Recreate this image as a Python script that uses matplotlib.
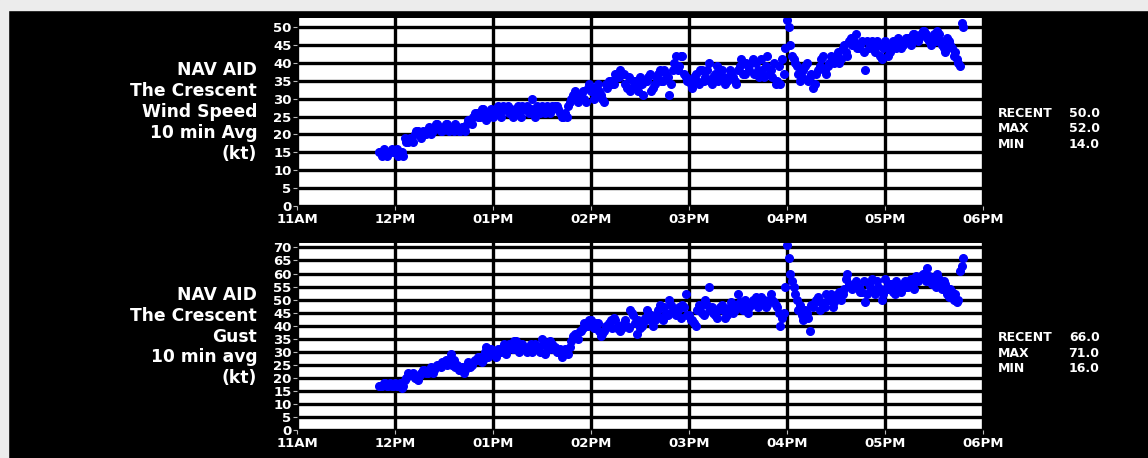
import numpy as np
import matplotlib.pyplot as plt
from matplotlib.patches import Rectangle

plt.rcParams["font.family"] = "DejaVu Sans"
plt.rcParams["font.weight"] = "bold"

# =========================
# DATA
# readings every minute from 11:50; stored as even and odd minutes
# =========================

start_min = 50          # minutes after 11:00

wind_even = [
    15, 14, 15, 15, 16,
    15, 14, 15, 19, 18,
    19, 20, 21, 19, 20,
    21, 20, 22, 23, 21,
    22, 23, 22, 21, 22,
    21, 22, 23, 24, 25,
    26, 25, 27, 24, 26,
    25, 27, 26, 28, 27,
    26, 25, 27, 26, 28,
    27, 26, 30, 25, 27,
    28, 26, 27, 28, 28,
    27, 25, 26, 28, 30,
    32, 29, 31, 30, 33,
    32, 30, 34, 31, 29,
    33, 35, 34, 36, 38,
    37, 33, 32, 35, 34,
    36, 31, 35, 37, 33,
    36, 38, 35, 37, 31,
    38, 42, 39, 42, 36,
    35, 33, 37, 34, 38,
    36, 40, 34, 37, 35,
    38, 34, 36, 37, 35,
    38, 41, 37, 39, 40,
    37, 38, 41, 36, 42,
    38, 40, 35, 34, 37,
    52, 45, 41, 39, 35,
    38, 40, 36, 33, 37,
    39, 42, 37, 40, 41,
    42, 40, 44, 43, 46,
    45, 48, 44, 46, 38,
    44, 46, 43, 45, 41,
    46, 42, 44, 45, 47,
    44, 46, 47, 45, 48,
    46, 48, 49, 47, 45,
    48, 49, 46, 44, 47,
    45, 42, 41, 39, 50,
]

wind_odd = [
    15, 16, 14, 15, 15,
    16, 15, 14, 18, 19,
    18, 21, 20, 21, 20,
    22, 21, 23, 22, 21,
    23, 21, 22, 23, 21,
    22, 21, 24, 23, 26,
    25, 27, 26, 25, 27,
    26, 28, 25, 27, 28,
    27, 26, 28, 25, 27,
    28, 27, 26, 28, 26,
    27, 28, 26, 27, 28,
    26, 25, 25, 29, 31,
    30, 31, 32, 29, 34,
    33, 31, 32, 30, 34,
    35, 34, 37, 36, 37,
    34, 36, 33, 35, 32,
    34, 35, 36, 32, 34,
    37, 35, 38, 36, 34,
    40, 38, 42, 37, 35,
    34, 36, 35, 38, 35,
    38, 35, 36, 39, 37,
    36, 35, 38, 36, 34,
    39, 37, 40, 38, 41,
    40, 36, 38, 39, 37,
    36, 34, 39, 41, 44,
    50, 42, 40, 37, 36,
    39, 35, 37, 34, 38,
    41, 38, 39, 42, 40,
    43, 41, 45, 42, 47,
    46, 44, 45, 43, 46,
    45, 44, 46, 42, 44,
    45, 43, 46, 44, 46,
    45, 47, 46, 48, 47,
    47, 49, 48, 46, 47,
    46, 48, 45, 43, 46,
    44, 43, 40, 51,
]

gust_even = [
    17, 17, 18, 17, 17,
    18, 17, 16, 19, 22,
    21, 20, 19, 22, 23,
    22, 24, 23, 25, 24,
    26, 25, 29, 27, 25,
    23, 22, 25, 24, 26,
    27, 28, 27, 32, 29,
    30, 28, 31, 32, 29,
    33, 31, 34, 30, 33,
    31, 32, 30, 33, 32,
    35, 29, 31, 33, 32,
    30, 28, 31, 29, 34,
    37, 35, 38, 41, 40,
    42, 39, 41, 36, 38,
    40, 42, 43, 39, 38,
    41, 40, 46, 44, 37,
    39, 41, 46, 42, 40,
    44, 48, 42, 45, 50,
    46, 44, 47, 48, 52,
    44, 42, 40, 48, 45,
    50, 55, 47, 44, 46,
    48, 43, 45, 49, 46,
    52, 47, 50, 45, 48,
    49, 47, 51, 50, 48,
    52, 49, 47, 40, 45,
    71, 60, 55, 50, 48,
    42, 45, 38, 47, 50,
    46, 48, 52, 50, 47,
    51, 53, 52, 58, 56,
    54, 57, 55, 53, 49,
    56, 58, 52, 55, 50,
    58, 54, 56, 52, 55,
    53, 57, 55, 58, 54,
    57, 59, 60, 62, 58,
    56, 60, 55, 57, 52,
    54, 50, 49, 61, 66,
]

gust_odd = [
    17, 18, 17, 18, 17,
    17, 18, 17, 20, 21,
    22, 20, 21, 23, 22,
    23, 22, 24, 25, 26,
    27, 26, 25, 24, 23,
    24, 23, 26, 25, 27,
    28, 26, 30, 28, 31,
    29, 31, 30, 33, 31,
    32, 34, 31, 33, 32,
    30, 33, 31, 32, 30,
    33, 32, 34, 31, 30,
    31, 29, 30, 32, 36,
    36, 38, 39, 40, 42,
    40, 41, 38, 37, 40,
    41, 39, 42, 40, 39,
    42, 39, 45, 41, 42,
    40, 43, 45, 44, 42,
    46, 43, 47, 44, 48,
    45, 46, 43, 47, 44,
    42, 41, 46, 47, 44,
    48, 46, 45, 43, 47,
    46, 44, 47, 45, 48,
    49, 46, 48, 47, 50,
    51, 48, 49, 47, 50,
    50, 48, 45, 43, 55,
    66, 57, 52, 46, 44,
    46, 43, 48, 49, 51,
    49, 47, 50, 52, 49,
    52, 50, 54, 60, 55,
    56, 55, 53, 57, 52,
    55, 53, 57, 54, 52,
    55, 56, 53, 57, 54,
    56, 55, 57, 56, 59,
    58, 60, 57, 59, 56,
    55, 58, 54, 56, 51,
    53, 52, 50, 63,
]

hour_labels = ["11AM", "12PM", "01PM", "02PM", "03PM", "04PM", "05PM", "06PM"]

titles = [
    "NAV AID\nThe Crescent\nWind Speed\n10 min Avg\n(kt)",
    "NAV AID\nThe Crescent\nGust\n10 min avg\n(kt)",
]


def serie(pares, impares):
    pares = np.array(pares, dtype=float)
    impares = np.array(impares, dtype=float)
    t = np.concatenate([start_min + 2 * np.arange(len(pares)),
                        start_min + 1 + 2 * np.arange(len(impares))])
    v = np.concatenate([pares, impares])
    orden = np.argsort(t)
    return t[orden] / 60.0, v[orden]


# =========================
# FIGURE
# =========================

fig = plt.figure(figsize=(11.48, 4.58), dpi=100)
fig.patch.set_facecolor("black")

# light frame around the image (left and top)
fig.add_artist(Rectangle((0, 0), 8 / 1148, 1, transform=fig.transFigure,
                         color="#ececec", zorder=0))
fig.add_artist(Rectangle((0, 1 - 10 / 458), 1, 10 / 458, transform=fig.transFigure,
                         color="#ececec", zorder=0))

ax_top = fig.add_axes([297 / 1148, 1 - 206 / 458, 686 / 1148, 188 / 458])
ax_bot = fig.add_axes([297 / 1148, 1 - 430 / 458, 686 / 1148, 187 / 458])

datos = [serie(wind_even, wind_odd), serie(gust_even, gust_odd)]

for ax, (tiempos, valores), titulo in zip([ax_top, ax_bot], datos, titles):

    ax.set_facecolor("white")
    ax.plot(tiempos, valores, "o", color="blue", markersize=5.5, zorder=3)

    ax.set_xlim(0, 7)
    ax.set_ylim(0, valores.max() * 1.01)

    ax.set_xticks(np.arange(8))
    ax.set_xticklabels(hour_labels)
    ax.set_yticks(np.arange(0, valores.max() + 1, 5))

    ax.grid(True, color="black", linewidth=2.4)
    ax.set_axisbelow(True)

    for s in ax.spines.values():
        s.set_visible(False)

    ax.tick_params(colors="#bbbbbb", labelcolor="white", length=3,
                   width=0.8, pad=1)
    ax.tick_params(axis="x", pad=2)
    for lab in ax.get_xticklabels() + ax.get_yticklabels():
        lab.set_fontweight("bold")
        lab.set_fontsize(9.5)

    ax.text(-0.058, 0.5, titulo, transform=ax.transAxes, ha="right",
            va="center", color="white", fontsize=12.3, fontweight="bold",
            linespacing=1.2)

    ax.text(1.022, 0.41,
            "RECENT\nMAX\nMIN",
            transform=ax.transAxes, ha="left", va="center",
            color="white", fontsize=9, fontweight="bold", linespacing=1.25)
    ax.text(1.17, 0.41,
            f"{valores[-1]:.1f}\n{valores.max():.1f}\n{valores.min():.1f}",
            transform=ax.transAxes, ha="right", va="center",
            color="white", fontsize=9, fontweight="bold", linespacing=1.25)

fig.savefig("out.png", dpi=100, facecolor=fig.get_facecolor())
